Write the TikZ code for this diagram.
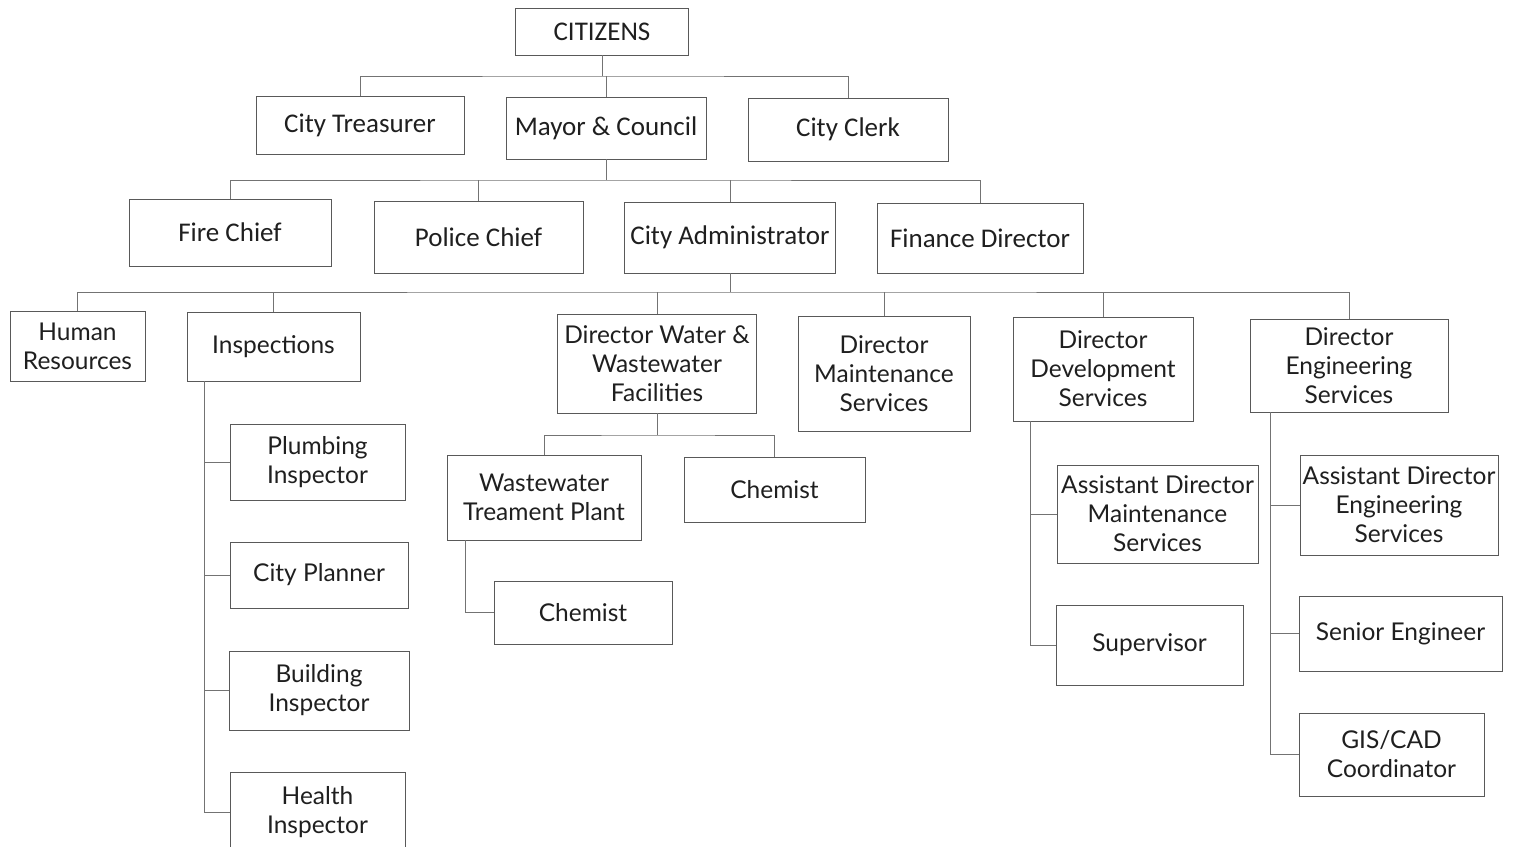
\documentclass[tikz,border=0pt]{standalone}
\usepackage{fontspec}
\setmainfont{Carlito}
\newfontfamily\lowfont{Lato}
\definecolor{boxline}{gray}{0.35}
\definecolor{conn}{gray}{0.45}
\definecolor{txt}{gray}{0.12}
\tikzset{
  topbox/.style={draw=boxline, line width=0.9pt, rectangle, inner sep=0pt, align=center, text=txt, font=\fontsize{27}{32}\selectfont},
  lowbox/.style={draw=boxline, line width=0.9pt, rectangle, inner sep=0pt, align=center, text=txt, font=\lowfont\fontsize{24.5}{29}\selectfont},
  conline/.style={draw=conn, line width=0.8pt}
}
\begin{document}
\begin{tikzpicture}[x=1pt,y=-1pt]
\useasboundingbox (0,0) rectangle (1515,846);
\clip (0,0) rectangle (1515,846);
% level 0-2
\node[topbox, minimum width=173, minimum height=47] (cit) at (602,31.5) {CITIZENS};
\node[topbox, minimum width=208, minimum height=58] (treas) at (360,125) {City Treasurer};
\node[topbox, minimum width=200, minimum height=62] (mayor) at (606,128) {Mayor \& Council};
\node[topbox, minimum width=200, minimum height=63] (clerk) at (848,129.5) {City Clerk};
\node[topbox, minimum width=202, minimum height=67] (fire) at (230,232.5) {Fire Chief};
\node[topbox, minimum width=209, minimum height=72] (police) at (478.5,237) {Police Chief};
\node[topbox, minimum width=211, minimum height=71] (admin) at (730,237.5) {City Administrator};
\node[topbox, minimum width=206, minimum height=70] (finance) at (980,238) {Finance Director};
% level 3
\node[lowbox, minimum width=135, minimum height=70] (hr) at (77.5,346) {Human\\Resources};
\node[lowbox, minimum width=173, minimum height=69] (insp) at (273.5,346.5) {Inspections};
\node[lowbox, minimum width=199, minimum height=99] (dwwf) at (657,363.5) {Director Water \&\\Wastewater\\Facilities};
\node[lowbox, minimum width=172, minimum height=115] (dms) at (884,373.5) {Director\\Maintenance\\Services};
\node[lowbox, minimum width=180, minimum height=104] (dds) at (1103,369) {Director\\Development\\Services};
\node[lowbox, minimum width=198, minimum height=93] (des) at (1349,365.5) {Director\\Engineering\\Services};
% inspections children
\node[lowbox, minimum width=175, minimum height=76] (plumb) at (317.5,462) {Plumbing\\Inspector};
\node[lowbox, minimum width=178, minimum height=66] (planner) at (319,575) {City Planner};
\node[lowbox, minimum width=180, minimum height=79] (build) at (319,690.5) {Building\\Inspector};
\node[lowbox, minimum width=175, minimum height=80] (health) at (317.5,812) {Health\\Inspector};
% water children
\node[lowbox, minimum width=194, minimum height=85] (wtp) at (544,497.5) {Wastewater\\Treament Plant};
\node[lowbox, minimum width=181, minimum height=65] (chemA) at (774.5,489.5) {Chemist};
\node[lowbox, minimum width=178, minimum height=63] (chemB) at (583,612.5) {Chemist};
% development children
\node[lowbox, minimum width=201, minimum height=98] (adms) at (1157.5,514) {Assistant Director\\Maintenance\\Services};
\node[lowbox, minimum width=187, minimum height=80] (sup) at (1149.5,645) {Supervisor};
% engineering children
\node[lowbox, minimum width=198, minimum height=100] (ades) at (1399,505) {Assistant Director\\Engineering\\Services};
\node[lowbox, minimum width=203, minimum height=75] (seng) at (1400.5,633.5) {Senior Engineer};
\node[lowbox, minimum width=185, minimum height=83] (gis) at (1391.5,754.5) {GIS/CAD\\Coordinator};
% bus points
\coordinate (b1) at (602,76);
\coordinate (b2) at (606,180);
\coordinate (b3) at (730,292);
\coordinate (b4) at (657,435);
\coordinate (i1) at (204,381);
\coordinate (w1) at (465,540);
\coordinate (d1) at (1030,421);
\coordinate (e1) at (1270,412);
% connectors
\draw[conline] (cit.south) -- (b1);
\draw[conline] (treas.north) |- (b1) -| (clerk.north);
\draw[conline] (mayor.north) -- (mayor.north |- b1);
\draw[conline] (mayor.south) -- (b2);
\draw[conline] (fire.north) |- (b2) -| (finance.north);
\draw[conline] (police.north) -- (police.north |- b2);
\draw[conline] (admin.north) -- (admin.north |- b2);
\draw[conline] (admin.south) -- (b3);
\draw[conline] (hr.north) |- (b3) -| (des.north);
\draw[conline] (insp.north) -- (insp.north |- b3);
\draw[conline] (dwwf.north) -- (dwwf.north |- b3);
\draw[conline] (dms.north) -- (dms.north |- b3);
\draw[conline] (dds.north) -- (dds.north |- b3);
\draw[conline] (i1) |- (health.west);
\draw[conline] (plumb.west) -- (plumb.west -| i1);
\draw[conline] (planner.west) -- (planner.west -| i1);
\draw[conline] (build.west) -- (build.west -| i1);
\draw[conline] (dwwf.south) -- (b4);
\draw[conline] (wtp.north) |- (b4) -| (chemA.north);
\draw[conline] (w1) |- (chemB.west);
\draw[conline] (d1) |- (sup.west);
\draw[conline] (adms.west) -- (adms.west -| d1);
\draw[conline] (e1) |- (gis.west);
\draw[conline] (ades.west) -- (ades.west -| e1);
\draw[conline] (seng.west) -- (seng.west -| e1);
\end{tikzpicture}
\end{document}
